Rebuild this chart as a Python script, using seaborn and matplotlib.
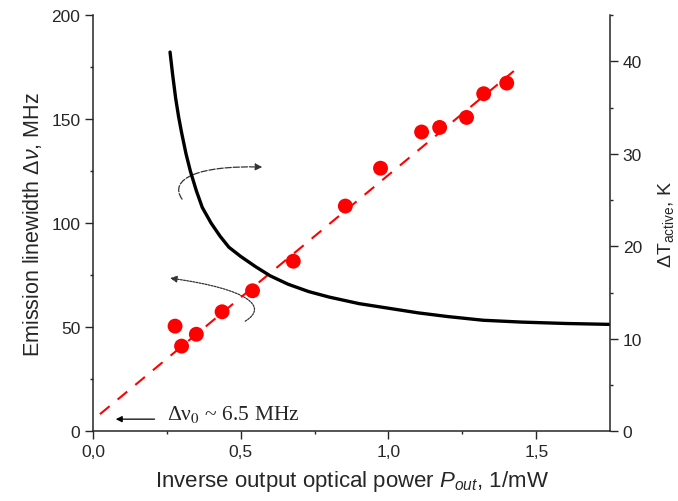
import numpy as np
import pandas as pd
import matplotlib
matplotlib.use("Agg")
import matplotlib.pyplot as plt
from matplotlib.patches import FancyArrowPatch
from matplotlib.path import Path
import seaborn as sns

# measured linewidth vs inverse output power
inv_power = [0.278, 0.300, 0.350, 0.437, 0.540, 0.678, 0.854, 0.973, 1.112, 1.173, 1.264, 1.322, 1.400]
linewidth = [50.5, 40.9, 46.6, 57.4, 67.5, 81.7, 108.2, 126.4, 143.8, 146.0, 150.8, 162.2, 167.3]

# linear fit endpoints (dashed red line)
fit_x = [0.024, 1.424]
fit_y = [8.2, 173.1]

# active region temperature rise (black curve, right axis)
temp_x = [0.261, 0.270, 0.280, 0.290, 0.300, 0.315, 0.330, 0.350, 0.370, 0.400, 0.430,
          0.460, 0.500, 0.550, 0.600, 0.660, 0.730, 0.800, 0.900, 1.000, 1.100, 1.200,
          1.320, 1.450, 1.600, 1.753]
temp_y = [41.0, 38.5, 36.0, 34.0, 32.3, 30.0, 28.1, 26.0, 24.2, 22.5, 21.1,
          19.9, 18.9, 17.8, 16.8, 15.9, 15.1, 14.5, 13.8, 13.3, 12.8, 12.4,
          12.0, 11.8, 11.65, 11.55]

sns.set_style("ticks")
plt.rcParams["font.family"] = ["Liberation Sans", "DejaVu Sans"]
plt.rcParams["mathtext.fontset"] = "custom"
plt.rcParams["mathtext.rm"] = "Liberation Sans"
plt.rcParams["mathtext.it"] = "Liberation Sans:italic"

fig = plt.figure(figsize=(6.78, 5.02), dpi=100)
ax = fig.add_axes([0.137, 0.139, 0.763, 0.829])
ax2 = ax.twinx()

sns.lineplot(x=fit_x, y=fit_y, ax=ax, color="red", linewidth=1.5,
             linestyle=(0, (6, 5)), zorder=2)
sns.scatterplot(x=inv_power, y=linewidth, ax=ax, color="red", s=115,
                edgecolor="none", zorder=3)
sns.lineplot(x=temp_x, y=temp_y, ax=ax2, sort=False, color="black",
             linewidth=2.4)

ax.set_xlim(0, 1.75)
ax.set_ylim(0, 200)
ax2.set_ylim(0, 45)

ax.set_xticks([0, 0.5, 1.0, 1.5])
ax.set_xticks([0.25, 0.75, 1.25], minor=True)
ax.set_xticklabels(["0,0", "0,5", "1,0", "1,5"])
ax.set_yticks([0, 50, 100, 150, 200])
ax.set_yticks([25, 75, 125, 175], minor=True)
ax2.set_yticks([0, 10, 20, 30, 40])
ax2.set_yticks([5, 15, 25, 35, 45], minor=True)

for a in (ax, ax2):
    a.tick_params(which="major", length=5.5, width=1, labelsize=12.5, direction="out")
    a.tick_params(which="minor", length=2.5, width=1, direction="out")
    a.spines["top"].set_visible(False)
    for s in a.spines.values():
        s.set_linewidth(1.1)
ax.spines["right"].set_visible(False)
ax2.spines["left"].set_visible(False)
ax2.spines["bottom"].set_visible(False)

ax.set_xlabel(r"Inverse output optical power $P_{out}$, 1/mW", fontsize=16, labelpad=7)
ax.set_ylabel(r"Emission linewidth $\mathit{\Delta\nu}$, MHz", fontsize=15.5, labelpad=5)
ax2.set_ylabel(r"$\Delta$T$_{\mathrm{active}}$, K", fontsize=14, labelpad=10)

# annotation for intercept
ax.annotate("", xy=(0.068, 5.8), xytext=(0.218, 5.8),
            arrowprops=dict(arrowstyle="-|>", color="black", lw=0.9,
                            mutation_scale=9))
ax.text(0.25, 8.5, "\u0394\u03bd$_0$ ~ 6.5 MHz", fontsize=15.5,
        family="Liberation Serif", math_fontfamily="stix", va="center", ha="left")


def px(x, y):
    # convert reference pixel position to data coordinates of the left axis
    return ((x - 93) / 295.0, (432 - y) / 2.08)


# curved arrows showing which axis each curve belongs to
up = Path([px(182, 200), px(168, 180), px(198, 166), px(262, 168)],
          [Path.MOVETO, Path.CURVE4, Path.CURVE4, Path.CURVE4])
ax.add_patch(FancyArrowPatch(path=up, arrowstyle="-|>", color="#333333", lw=0.9,
                             linestyle=(0, (5, 1.5)), mutation_scale=10))
down = Path([px(245, 322), px(268, 308), px(250, 290), px(170, 279)],
            [Path.MOVETO, Path.CURVE4, Path.CURVE4, Path.CURVE4])
ax.add_patch(FancyArrowPatch(path=down, arrowstyle="-|>", color="#333333", lw=0.9,
                             linestyle=(0, (1.5, 1)), mutation_scale=10))

fig.savefig("out.png", dpi=100)
